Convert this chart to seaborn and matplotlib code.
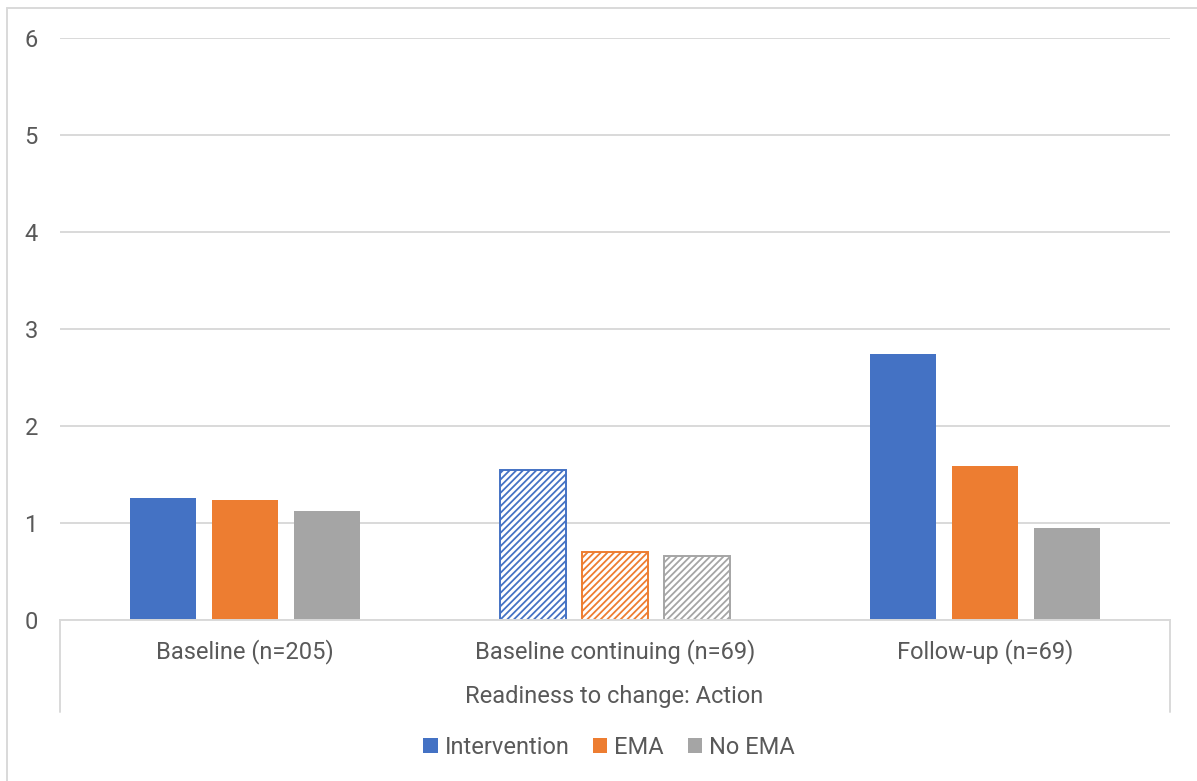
import matplotlib
matplotlib.use("Agg")
import matplotlib.pyplot as plt
from matplotlib.lines import Line2D
from matplotlib.patches import Patch
import seaborn as sns
import pandas as pd

# Mean scores per assessment period and study arm
periods = ["Baseline (n=205)", "Baseline continuing (n=69)", "Follow-up (n=69)"]
groups = ["Intervention", "EMA", "No EMA"]
intervention = [1.26, 1.55, 2.74]
ema = [1.24, 0.70, 1.59]
no_ema = [1.12, 0.66, 0.95]
y_ticks = [0, 1, 2, 3, 4, 5, 6]
axis_title = "Readiness to change: Action"

colors = {"Intervention": "#4472C4", "EMA": "#ED7D31", "No EMA": "#A5A5A5"}
text_color = "#595959"
grid_color = "#D9D9D9"

rows = []
for g, vals in zip(groups, [intervention, ema, no_ema]):
    for p, v in zip(periods, vals):
        rows.append({"period": p, "group": g, "value": v})
df = pd.DataFrame(rows)

sns.set_style("white")
plt.rcParams["font.family"] = ["Roboto", "DejaVu Sans"]
plt.rcParams["hatch.linewidth"] = 1.3
fs = 17

W, H = 1197, 781
fig = plt.figure(figsize=(W / 100, H / 100), dpi=100)
ax = fig.add_axes([60 / W, (H - 620) / H, 1110 / W, 582 / H])

sns.barplot(data=df, x="period", y="value", hue="group", order=periods,
            hue_order=groups, palette=colors, width=0.665, gap=0.195,
            linewidth=0, saturation=1, legend=False, ax=ax)

# The "continuing" period is drawn as hatched, outlined bars
for patch in ax.patches:
    cx = patch.get_x() + patch.get_width() / 2
    if round(cx) == 1:
        c = patch.get_facecolor()
        patch.set_facecolor("white")
        patch.set_edgecolor(c)
        patch.set_hatch("/////")
        patch.set_linewidth(1.4)

ax.set_ylim(0, 6)
ax.set_xlim(-0.5, 2.5)
ax.set_yticks(y_ticks)
ax.set_yticklabels([str(t) for t in y_ticks])
ax.yaxis.grid(True, color=grid_color, linewidth=1.4)
ax.set_axisbelow(True)
for s in ["left", "right", "top"]:
    ax.spines[s].set_visible(False)
ax.spines["bottom"].set_color(grid_color)
ax.spines["bottom"].set_linewidth(1.4)
ax.tick_params(axis="both", length=0, labelsize=fs, labelcolor=text_color)
ax.tick_params(axis="y", pad=16)
ax.tick_params(axis="x", pad=14)
ax.set_xlabel("")
ax.set_ylabel("")

# Category axis end brackets and title
for x in (60, 1170):
    fig.add_artist(Line2D([x / W, x / W], [(H - 620) / H, (H - 712) / H],
                          color=grid_color, linewidth=1.4))
fig.text(614 / W, 1 - 697 / H, axis_title, ha="center", va="center",
         fontsize=fs, color=text_color)

# Chart frame
fig.add_artist(Line2D([7 / W, 7 / W], [0, 1 - 8 / H], color=grid_color, linewidth=1.4))
fig.add_artist(Line2D([7 / W, 1], [1 - 8 / H, 1 - 8 / H], color=grid_color, linewidth=1.4))

handles = [Patch(facecolor=colors[g], edgecolor="none", label=g) for g in groups]
fig.legend(handles=handles, loc="center", bbox_to_anchor=(609 / W, 1 - 747 / H),
           ncol=3, frameon=False, fontsize=fs, labelcolor=text_color,
           handlelength=0.6, handleheight=0.6, handletextpad=0.3,
           columnspacing=1.0)

fig.savefig("out.png", dpi=100, facecolor="white")
